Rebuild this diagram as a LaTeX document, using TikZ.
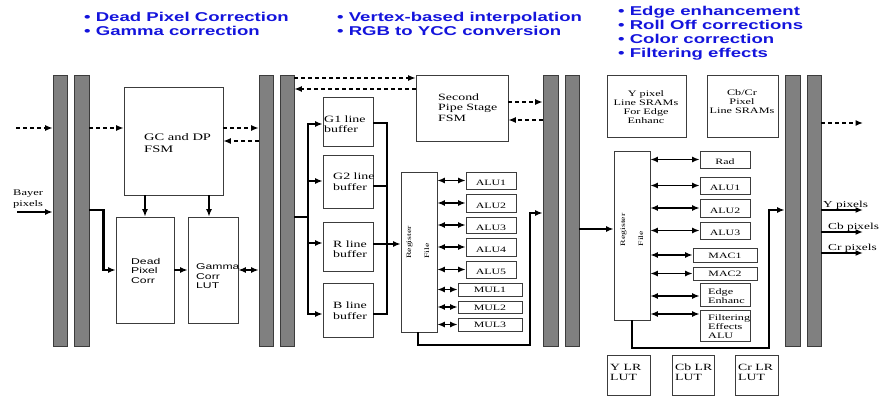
\documentclass[tikz,border=0pt]{standalone}
\usepackage{fontspec}
\setmainfont{Liberation Serif}[FakeStretch=1.45]
\setsansfont{Liberation Sans}[FakeStretch=1.45]
\newfontfamily\hdfont{Liberation Sans}[FakeStretch=1.45]
\usetikzlibrary{arrows.meta, fit}
\definecolor{inkblue}{HTML}{1414DC}
\definecolor{regfill}{HTML}{808080}
\definecolor{edgegrey}{HTML}{3C3C3C}

\begin{document}
\begin{tikzpicture}[x=1pt, y=-1pt, >={Latex[length=7.5pt, width=6pt]},
  box/.style={draw=edgegrey, line width=0.7pt, fill=white, inner sep=0pt},
  reg/.style={draw=edgegrey, line width=0.7pt, fill=regfill, inner sep=0pt},
  lbl/.style={inner sep=0pt, align=left, anchor=west,
    font=\fontsize{9.6}{10.5}\selectfont},
  small/.style={lbl, font=\fontsize{8.4}{9}\selectfont},
  sanslbl/.style={lbl, font=\sffamily\fontsize{8.4}{9.5}\selectfont},
  fu/.style={box, font=\fontsize{8.2}{9}\selectfont, text height=10pt,
    text depth=0pt},
  fuflat/.style={fu, text height=6pt},
  reglbl/.style={rotate=90, align=left, inner sep=0pt,
    font=\fontsize{6.8}{18}\selectfont},
  hd/.style={inner sep=0pt, anchor=base west, text=inkblue,
    font=\hdfont\bfseries\fontsize{12.8}{14}\selectfont},
  bus/.style={line width=2.3pt},
  dbl/.style={line width=1.9pt},
  dsh/.style={line width=1.3pt, dash pattern=on 4pt off 3pt}]
  \useasboundingbox (0,0) rectangle (881,396);

  \foreach \t/\x/\y [count=\i] in {{• Dead Pixel Correction}/84/22,
      {• Gamma correction}/84/36, {• Vertex-based interpolation}/337/22,
      {• RGB to YCC conversion}/337/36, {• Edge enhancement}/618/16,
      {• Roll Off corrections}/618/30, {• Color correction}/618/44,
      {• Filtering effects}/618/58}{%
    \node[hd] (hd\i) at (\x,\y) {\t};}

  \foreach \a/\b [count=\i] in {53/67, 74/89, 259/273, 280/294,
                                543/558, 565/579, 785/800, 807/821}{%
    \node[reg, fit={(\a,75) (\b,346)}] (bar\i) {};}

  \node[box, fit={(124,87) (223,195)}] (gc) {};
  \node[lbl, font=\fontsize{10}{12}\selectfont] (gc-t) at (144,143) {GC and DP\\FSM};
  \node[box, fit={(116,217) (174,323)}] (dead) {};
  \node[sanslbl] (dead-t) at (131,270.5) {Dead\\Pixel\\Corr};
  \node[box, fit={(188,217) (238,323)}] (gamma) {};
  \node[sanslbl] (gamma-t) at (196,276.5) {Gamma\\Corr\\LUT};
  \node[lbl, font=\fontsize{8.6}{11}\selectfont] (bayer) at (13,199.5) {Bayer\\pixels};

  \node[box, fit={(323,97) (373,146)}] (g1) {};
  \node[box, fit={(323,155) (373,208)}] (g2) {};
  \node[box, fit={(323,222) (373,271)}] (rbuf) {};
  \node[box, fit={(323,283) (373,337)}] (bbuf) {};
  \node[lbl] (g1-t) at (324,124) {G1 line\\buffer};
  \node[lbl] (g2-t) at (333,181.5) {G2 line\\buffer};
  \node[lbl] (rbuf-t) at (333,249) {R line\\buffer};
  \node[lbl] (bbuf-t) at (333,310.5) {B line\\buffer};

  \node[box, fit={(416,75) (508,141)}] (sp) {};
  \node[lbl] (sp-t) at (438,107.5) {Second\\Pipe Stage\\FSM};

  \node[box, fit={(401,172) (437,332)}] (rf1) {};
  \node[reglbl] (rf1-t) at (418,242.5) {Register\\File};
  \foreach \n/\y/\h in {1/180.5/17, 2/203/18, 3/225/16, 4/247/18, 5/269.5/17}{%
    \node[fu, minimum width=50, minimum height=\h] (alu\n) at (491,\y) {ALU\n};
    \draw[dbl, <->] (rf1.east |- alu\n.west) -- (alu\n.west);}
  \foreach \n/\y/\h in {1/289.5/13, 2/307/12, 3/324.5/13}{%
    \node[fuflat, minimum width=64, minimum height=\h] (mul\n) at (490,\y) {MUL\n};
    \draw[dbl, <->] (rf1.east |- mul\n.west) -- (mul\n.west);}

  \node[box, fit={(607,75) (686,137)}] (ysram) {};
  \node[small, align=center, anchor=center] (ysram-t) at (646,107)
    {Y pixel\\Line SRAMs\\For Edge\\Enhanc};
  \node[box, fit={(707,75) (778,137)}] (csram) {};
  \node[small, align=center, anchor=center] (csram-t) at (742,101.5)
    {Cb/Cr\\Pixel\\Line SRAMs};

  \node[box, fit={(614,151) (650,320)}] (rf2) {};
  \node[reglbl] (rf2-t) at (632,230) {Register\\File};
  \node[fu, minimum width=50, minimum height=17] (rad) at (725,159.5) {Rad};
  \foreach \n/\y/\h in {1/185.5/17, 2/208/18, 3/230.5/17}{%
    \node[fu, minimum width=50, minimum height=\h] (calu\n) at (725,\y) {ALU\n};}
  \foreach \n/\y/\h in {1/255/14, 2/273.5/13}{%
    \node[fuflat, minimum width=64, minimum height=\h] (mac\n) at (725,\y) {MAC\n};}
  \foreach \n in {rad, calu1, calu2, calu3, mac1, mac2}{%
    \draw[dbl, <->] (rf2.east |- \n.west) -- (\n.west);}
  \node[box, fit={(700,283) (750,306)}] (edge) {};
  \node[small] (edge-t) at (708,296.5) {Edge\\Enhanc};
  \node[box, fit={(700,310) (750,341)}] (filt) {};
  \node[small] (filt-t) at (708,327) {Filtering\\Effects\\ALU};
  \draw[dbl, <->] (rf2.east |- 0,296) -- (edge.west |- 0,296);
  \draw[dbl, <->] (rf2.east |- 0,314) -- (filt.west |- 0,314);

  \foreach \a/\b/\n/\t in {607/650/ylut/Y, 672/714/cblut/Cb, 735/778/crlut/Cr}{%
    \node[box, fit={(\a,355) (\b,395)}] (\n) {};
    \node[lbl, font=\fontsize{9.5}{10}\selectfont] (\n-t) at (\a+3,372) {\t\ LR\\LUT};}

  \coordinate (din) at (16,128);
  \draw[dsh, ->] (din) -- (bar1.west |- din);
  \draw[dsh, ->] (bar2.east |- din) -- (gc.west |- din);
  \draw[dsh, ->] (gc.east |- din) -- (bar3.west |- din);
  \draw[dsh, ->] (bar3.west |- 0,141) -- (gc.east |- 0,141);
  \draw[dsh, ->] (bar4.east |- 0,78) -- (sp.west |- 0,78);
  \draw[dsh, ->] (sp.west |- 0,89) -- (bar4.east |- 0,89);
  \draw[dsh, ->] (sp.east |- 0,102) -- (bar5.west |- 0,102);
  \draw[dsh, ->] (bar5.west |- 0,120) -- (sp.east |- 0,120);
  \coordinate (dout) at (863,123);
  \draw[dsh, ->] (bar8.east |- dout) -- (dout);

  \coordinate (bin) at (17,212);
  \draw[bus, ->] (bin) -- (bar1.west |- bin);
  \draw[bus, ->] (bar2.east |- 0,210) -- ++(14,0) |- (dead.west |- 0,270);
  \draw[bus, ->] (gc.south -| 145,0) -- (dead.north -| 145,0);
  \draw[bus, ->] (gc.south -| 209,0) -- (gamma.north -| 209,0);
  \draw[bus, ->] (dead.east |- 0,270) -- (gamma.west |- 0,270);
  \draw[bus, <->] (gamma.east |- 0,270) -- (bar3.west |- 0,270);

  \coordinate (lbus) at (308,217);
  \draw[bus] (bar4.east |- lbus) -- (lbus);
  \foreach \n/\y in {g1/124, g2/181, rbuf/243, bbuf/314}{%
    \draw[bus, ->] (lbus) |- (\n.west |- 0,\y);}
  \coordinate (rbus) at (387,244);
  \foreach \n/\y in {g1/123, g2/186, bbuf/314}{%
    \draw[bus] (\n.east |- 0,\y) -| (rbus);}
  \draw[bus, ->] (rbuf.east |- rbus) -- (rf1.west |- rbus);
  \draw[bus, ->] (rf1.south -| 418,0) |- (530,345) |- (bar5.west |- 0,213);

  \draw[bus, ->] (bar6.east |- 0,229) -- (rf2.west |- 0,229);
  \draw[bus, ->] (rf2.south -| 632,0) |- (769,348) |- (bar7.west |- 0,210);

  \foreach \y/\t/\ty/\tx [count=\i] in {210/Y pixels/205/823,
      232/Cb pixels/227/828, 253/Cr pixels/248/828}{%
    \coordinate (out\i) at (863,\y);
    \draw[bus, ->] (bar8.east |- out\i) -- (out\i);
    \node[lbl, font=\fontsize{9.2}{10}\selectfont] (out\i-t) at (\tx,\ty) {\t};}
\end{tikzpicture}
\end{document}
